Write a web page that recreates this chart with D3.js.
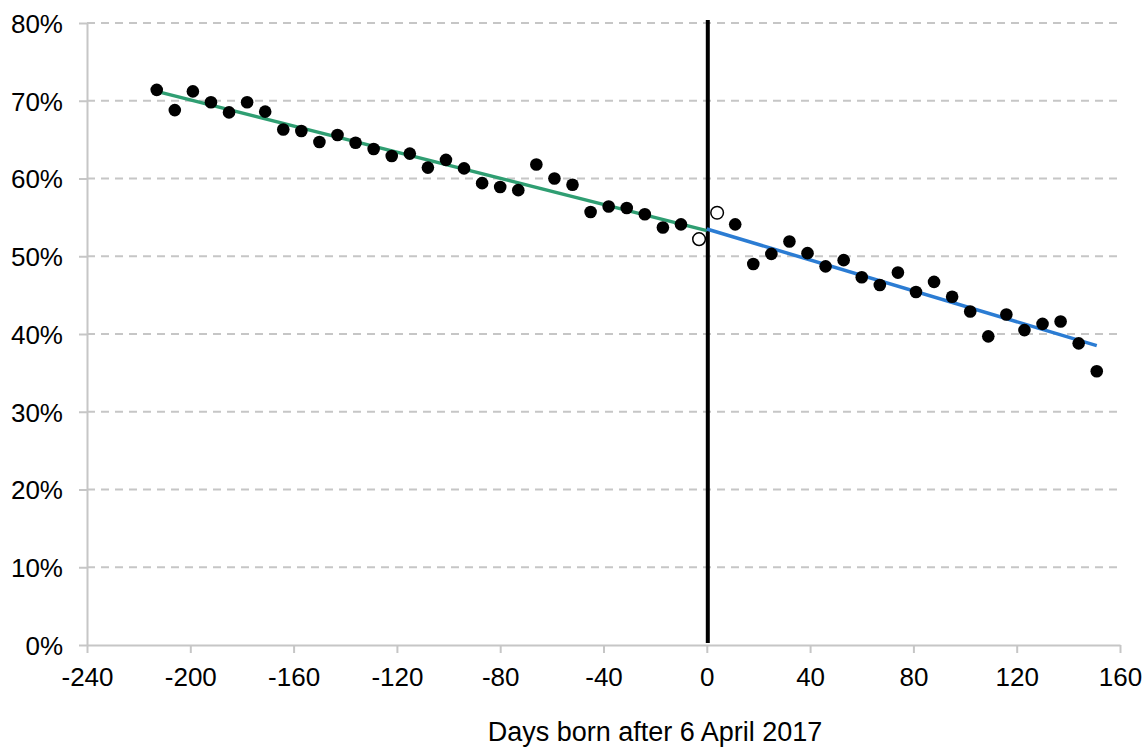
<!DOCTYPE html>
<html>
<head>
<meta charset="utf-8">
<script src="https://cdn.jsdelivr.net/npm/d3@7"></script>
<style>
  body { margin: 0; background: #fff; }
  text { font-family: "Liberation Sans", Arial, sans-serif; fill: #000; }
</style>
</head>
<body>
<svg id="chart" width="1145" height="747"></svg>
<script>
// days relative to 6 April 2017, one point per week
const daysBefore = [-213,-206,-199,-192,-185,-178,-171,-164,-157,-150,-143,-136,-129,-122,-115,-108,-101,-94,-87,-80,-73,-66,-59,-52,-45,-38,-31,-24,-17,-10,-3];
const shareBefore = [71.4,68.8,71.2,69.8,68.5,69.8,68.6,66.3,66.1,64.7,65.6,64.6,63.8,62.9,63.2,61.4,62.4,61.3,59.4,58.9,58.5,61.8,60.0,59.2,55.7,56.4,56.2,55.4,53.7,54.1,52.2];
const daysAfter = [4,11,18,25,32,39,46,53,60,67,74,81,88,95,102,109,116,123,130,137,144,151];
const shareAfter = [55.6,54.1,49.0,50.3,51.9,50.4,48.7,49.5,47.3,46.3,47.9,45.4,46.7,44.8,42.9,39.7,42.5,40.5,41.3,41.6,38.8,35.2];
// the two weeks next to the cut-off are drawn hollow
const hollowDays = [-3, 4];

// fitted lines either side of the cut-off
const fitBefore = [[-213, 71.2], [0, 53.3]];
const fitAfter = [[0, 53.5], [151, 38.5]];

const xTicks = [-240,-200,-160,-120,-80,-40,0,40,80,120,160];
const yTicks = [0,10,20,30,40,50,60,70,80];

const svg = d3.select("#chart");
const margin = {top: 23, right: 25, bottom: 102, left: 87};
const width = 1145, height = 747;

const x = d3.scaleLinear().domain([-240, 160]).range([margin.left, width - margin.right]);
const y = d3.scaleLinear().domain([0, 80]).range([height - margin.bottom, margin.top]);

// dashed gridlines
svg.append("g")
  .selectAll("line")
  .data(yTicks.filter(d => d > 0))
  .enter().append("line")
    .attr("x1", x(-240)).attr("x2", x(160))
    .attr("y1", d => y(d)).attr("y2", d => y(d))
    .attr("stroke", "#c6c6c6")
    .attr("stroke-width", 2)
    .attr("stroke-dasharray", "8,6");

// axes (plain hyphen for negatives, like the original)
const xAxis = svg.append("g")
  .attr("transform", "translate(0," + y(0) + ")")
  .call(d3.axisBottom(x).tickValues(xTicks).tickSize(8).tickSizeOuter(0).tickFormat(d => String(d)));
const yAxis = svg.append("g")
  .attr("transform", "translate(" + x(-240) + ",0)")
  .call(d3.axisLeft(y).tickValues(yTicks).tickSize(8).tickSizeOuter(0).tickFormat(d => d + "%"));

[xAxis, yAxis].forEach(function(a) {
  a.select(".domain").attr("stroke", "#c6c6c6").attr("stroke-width", 2);
  a.selectAll(".tick line").attr("stroke", "#c6c6c6").attr("stroke-width", 2);
  a.selectAll("text").style("font-size", "26px").attr("fill", "#000")
    .style("font-family", "'Liberation Sans', Arial, sans-serif");
});
xAxis.selectAll("text").attr("dy", null).attr("y", 41);
yAxis.selectAll("text").attr("x", -24).attr("dy", "0.36em");

// cut-off line
svg.append("line")
  .attr("x1", x(0) + 1).attr("x2", x(0) + 1)
  .attr("y1", y(80) - 3).attr("y2", y(0) - 2)
  .attr("stroke", "#000")
  .attr("stroke-width", 4);

// fit lines
const line = d3.line().x(d => x(d[0])).y(d => y(d[1]));
svg.append("path").datum(fitBefore).attr("d", line)
  .attr("fill", "none").attr("stroke", "#2f9e72").attr("stroke-width", 3.5);
svg.append("path").datum(fitAfter).attr("d", line)
  .attr("fill", "none").attr("stroke", "#2b7cd3").attr("stroke-width", 3.5);

// points
const points = daysBefore.map((d, i) => ({day: d, share: shareBefore[i]}))
  .concat(daysAfter.map((d, i) => ({day: d, share: shareAfter[i]})));

svg.append("g")
  .selectAll("circle")
  .data(points)
  .enter().append("circle")
    .attr("cx", d => x(d.day))
    .attr("cy", d => y(d.share))
    .attr("r", 6.3)
    .attr("fill", d => hollowDays.includes(d.day) ? "#fff" : "#000")
    .attr("stroke", "#000")
    .attr("stroke-width", d => hollowDays.includes(d.day) ? 1.5 : 0);

// axis title
svg.append("text")
  .attr("x", 655)
  .attr("y", 741)
  .attr("text-anchor", "middle")
  .style("font-size", "27px")
  .text("Days born after 6 April 2017");
</script>
</body>
</html>
